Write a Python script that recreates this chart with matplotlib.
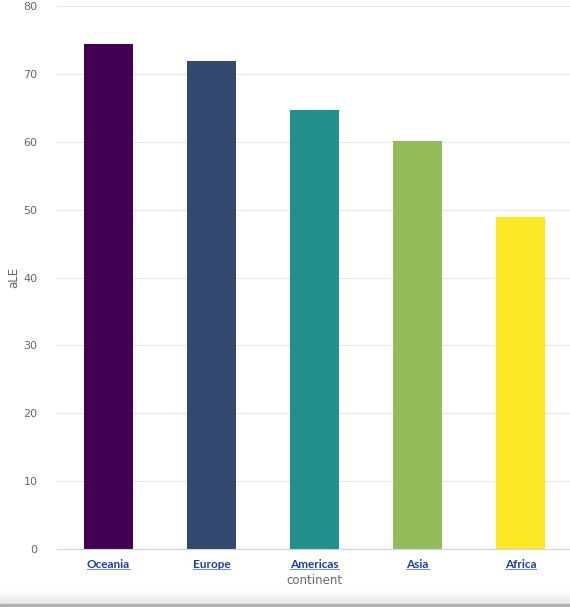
import matplotlib
matplotlib.use("Agg")
import matplotlib.pyplot as plt
from matplotlib.patches import Rectangle

# ── Data ──────────────────────────────────────────────────────────────
continents = ["Oceania", "Europe", "Americas", "Asia", "Africa"]
ale = [74.33, 71.90, 64.66, 60.06, 48.87]
colors = ["#440154", "#32486E", "#21908C", "#92BC59", "#FDE725"]
yticks = [0, 10, 20, 30, 40, 50, 60, 70, 80]

fig = plt.figure(figsize=(5.7, 6.07), dpi=100)
ax = fig.add_axes([57 / 570, 58 / 607, 515 / 570, 543 / 607])

x = list(range(len(continents)))
ax.bar(x, ale, width=0.48, color=colors, zorder=3)

ax.set_xlim(-0.5, len(continents) - 0.5)
ax.set_ylim(0, 80)
ax.set_yticks(yticks)
ax.set_xticks(x)
ax.set_xticklabels(continents)

for lbl in ax.get_xticklabels():
    lbl.set_color("#1c3f9e")
    lbl.set_fontweight("bold")
    lbl.set_fontsize(8.5)
    lbl.set_fontfamily("Lato")
for lbl in ax.get_yticklabels():
    lbl.set_color("#666666")
    lbl.set_fontsize(8)

ax.tick_params(axis="both", length=0)
ax.tick_params(axis="x", pad=7)
ax.tick_params(axis="y", pad=14)

ax.grid(axis="y", color="#e6e6e6", linewidth=0.8, zorder=0)
for s in ["top", "right", "left"]:
    ax.spines[s].set_visible(False)
ax.spines["bottom"].set_color("#ccd6eb")
ax.spines["bottom"].set_zorder(4)

ax.set_ylabel("aLE", color="#666666", fontsize=8.5)
ax.yaxis.set_label_coords(-37 / 515, 0.5)
ax.set_xlabel("continent", color="#666666", fontsize=8.5, labelpad=3)

# underline the category labels
fig.canvas.draw()
renderer = fig.canvas.get_renderer()
for lbl in ax.get_xticklabels():
    bb = lbl.get_window_extent(renderer).transformed(fig.transFigure.inverted())
    fig.add_artist(plt.Line2D([bb.x0, bb.x1], [bb.y0 + 0.001, bb.y0 + 0.001],
                              color="#7f93c8", linewidth=0.8))

# faint shadow strip at the bottom of the frame
for i in range(14):
    shade = 0.90 + i * 0.0075
    fig.patches.append(Rectangle((0, (3 + i) / 607), 1, 1 / 607, transform=fig.transFigure,
                                 color=(shade, shade, shade), zorder=0))
fig.patches.append(Rectangle((0, 0), 1, 3 / 607, transform=fig.transFigure,
                             color="#b0b0b0", zorder=0))

fig.savefig("out.png", dpi=100)
